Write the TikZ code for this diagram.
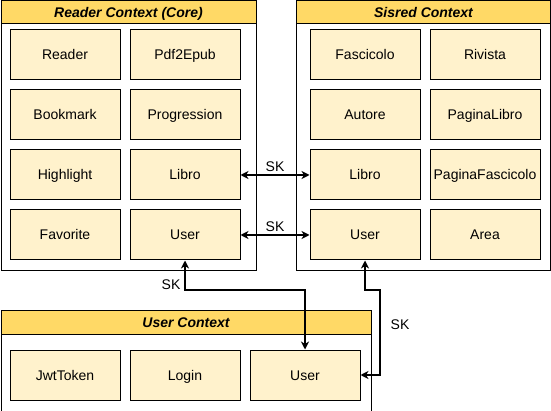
\documentclass[tikz,border=0pt]{standalone}
\usepackage{fontspec}
\setmainfont{Liberation Sans}
\usepackage{tikz}
\usetikzlibrary{positioning,arrows.meta,calc}
\definecolor{headyellow}{HTML}{FFD966}
\definecolor{entityfill}{HTML}{FFF2CC}
\tikzset{
  skarrow/.style={{Stealth[length=8pt,width=8pt,inset=2.5pt]}-{Stealth[length=8pt,width=8pt,inset=2.5pt]}, line width=1.6pt},
  entity/.style={draw, line width=1pt, fill=entityfill, minimum width=110pt, minimum height=50pt, inner sep=0pt, text height=11pt, text depth=1pt, align=center},
  ctxbody/.style={draw, line width=1pt, fill=white, inner sep=0pt, anchor=north west},
  ctxhead/.style={draw, line width=1pt, fill=headyellow, minimum height=23pt, inner sep=0pt, text height=11pt, text depth=1pt, anchor=north west, font=\fontsize{14}{16}\selectfont\bfseries\itshape},
  sklabel/.style={font=\fontsize{14}{16}\selectfont, inner sep=1pt}
}

\begin{document}
\begin{tikzpicture}[x=1pt, y=-1pt, every node/.style={font=\fontsize{14}{16}\selectfont}]
  \useasboundingbox (0,0) rectangle (551,411);
  % Reader context
  \node[ctxbody, minimum width=255pt, minimum height=270pt] (readerbody) at (0.5,0.5) {};
  \node[ctxhead, minimum width=255pt] (readerhead) at (0.5,0.5) {Reader Context (Core)};
  \node[entity] (reader) at (65,55) {Reader};
  \node[entity] (pdfepub) at (185,55) {Pdf2Epub};
  \node[entity] (bookmark) at (65,115) {Bookmark};
  \node[entity] (progression) at (185,115) {Progression};
  \node[entity] (highlight) at (65,175) {Highlight};
  \node[entity] (rlibro) at (185,175) {Libro};
  \node[entity] (favorite) at (65,235) {Favorite};
  \node[entity] (ruser) at (185,235) {User};
  % Sisred context
  \node[ctxbody, minimum width=254pt, minimum height=270pt] (sisredbody) at (296,0.5) {};
  \node[ctxhead, minimum width=254pt] (sisredhead) at (296,0.5) {Sisred Context};
  \node[entity] (fascicolo) at (365,55) {Fascicolo};
  \node[entity] (rivista) at (485,55) {Rivista};
  \node[entity] (autore) at (365,115) {Autore};
  \node[entity] (paginalibro) at (485,115) {PaginaLibro};
  \node[entity] (slibro) at (365,175) {Libro};
  \node[entity] (paginafasc) at (485,175) {PaginaFascicolo};
  \node[entity] (suser) at (365,235) {User};
  \node[entity] (area) at (485,235) {Area};
  % User context
  \node[ctxbody, minimum width=370pt, minimum height=100pt] (userbody) at (0.5,310.5) {};
  \node[ctxhead, minimum width=370pt] (userhead) at (0.5,310.5) {User Context};
  \node[entity] (jwt) at (65,375) {JwtToken};
  \node[entity] (login) at (185,375) {Login};
  \node[entity] (uuser) at (305,375) {User};
  % shared kernel links
  \draw[skarrow] (rlibro) -- node[sklabel, above=2pt] {SK} (slibro);
  \draw[skarrow] (ruser) -- node[sklabel, above=2pt] {SK} (suser);
  \coordinate (bendone) at (185,290);
  \coordinate (bendtwo) at (305,290);
  \draw[skarrow] (ruser.south) -- (bendone) -- (bendtwo) -- (uuser.north);
  \node[sklabel] (skone) at (171,285) {SK};
  \coordinate (bendthree) at (365,290);
  \coordinate (bendfour) at (380,290);
  \coordinate (bendfive) at (380,375);
  \draw[skarrow] (suser.south) -- (bendthree) -- (bendfour) -- (bendfive) -- (uuser.east);
  \node[sklabel] (sktwo) at (400,325) {SK};
\end{tikzpicture}
\end{document}
